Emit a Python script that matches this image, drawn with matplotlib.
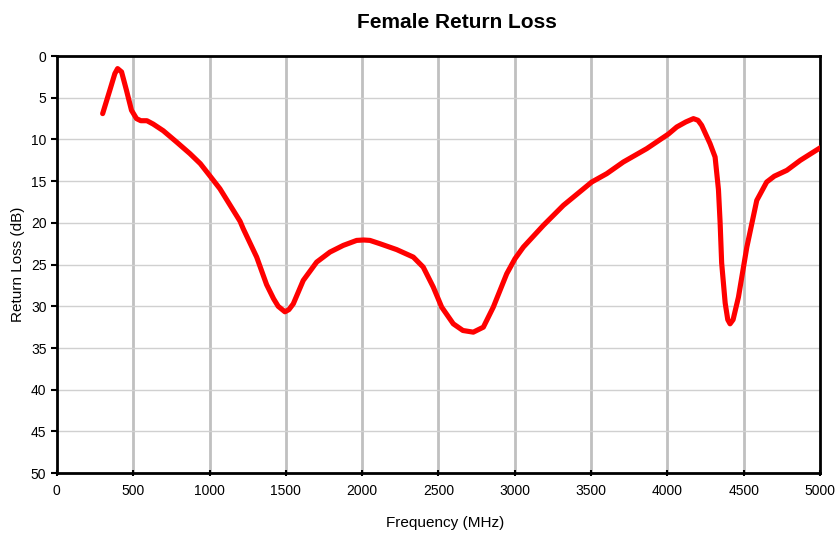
import matplotlib
matplotlib.use("Agg")
import matplotlib.pyplot as plt

plt.rcParams['font.family'] = ['Liberation Sans', 'DejaVu Sans']

# frequency (MHz) and return loss (dB)
freq = [300, 347, 380, 398, 424, 456, 489, 522, 550, 590, 631, 697, 784, 872,
        940, 1000, 1068, 1156, 1200, 1221, 1309, 1374, 1420, 1450, 1494, 1520,
        1549, 1614, 1702, 1789, 1876, 1964, 2010, 2051, 2117, 2226, 2335, 2400,
        2466, 2521, 2597, 2660, 2728, 2794, 2859, 2947, 2980, 3001, 3056, 3187,
        3318, 3504, 3602, 3711, 3864, 4006, 4061, 4120, 4170, 4200, 4224, 4279,
        4312, 4334, 4345, 4355, 4378, 4395, 4410, 4430, 4465, 4520, 4585, 4650,
        4700, 4782, 4870, 5000]
rl = [6.9, 4.1, 2.1, 1.5, 1.9, 4.1, 6.5, 7.5, 7.75, 7.75, 8.15, 8.95, 10.3,
      11.7, 12.9, 14.3, 15.9, 18.5, 19.8, 20.7, 24.1, 27.4, 29.1, 30.0, 30.66,
      30.4, 29.7, 26.9, 24.7, 23.5, 22.7, 22.1, 22.05, 22.1, 22.5, 23.2, 24.1,
      25.3, 27.7, 30.1, 32.1, 32.9, 33.1, 32.5, 30.1, 26.1, 25.0, 24.3, 22.9,
      20.3, 17.9, 15.1, 14.1, 12.7, 11.1, 9.35, 8.5, 7.9, 7.5, 7.7, 8.3, 10.5,
      12.1, 16.0, 20.0, 24.8, 29.6, 31.6, 32.1, 31.6, 28.9, 22.9, 17.3, 15.1,
      14.4, 13.7, 12.5, 11.0]

fig = plt.figure(figsize=(8.36, 5.34), dpi=100)
ax = fig.add_axes([0.068, 0.114, 0.913, 0.781])

ax.plot(freq, rl, color="#ff0000", linewidth=3.7, solid_capstyle="round",
        solid_joinstyle="round", zorder=3)

ax.set_xlim(0, 5000)
ax.set_ylim(50, 0)
ax.set_xticks(range(0, 5001, 500))
ax.set_yticks(range(0, 51, 5))

for x in range(500, 5000, 500):
    ax.axvline(x, color="#c0c0c0", linewidth=2.0, zorder=1)
for y in range(5, 50, 5):
    ax.axhline(y, color="#d0d0d0", linewidth=1.0, zorder=1)

for s in ax.spines.values():
    s.set_linewidth(2.0)
    s.set_color("black")

ax.tick_params(axis="x", labelsize=10, length=5, width=1.5, direction="inout", pad=5)
ax.tick_params(axis="y", labelsize=10, length=4, width=1.5, direction="out")
ax.set_xlabel("Frequency (MHz)", fontsize=11, labelpad=13, x=0.509)
ax.set_ylabel("Return Loss (dB)", fontsize=11, labelpad=4)
ax.set_title("Female Return Loss", fontsize=15, fontweight="bold", pad=20, x=0.524)

fig.savefig("out.png", dpi=100)
